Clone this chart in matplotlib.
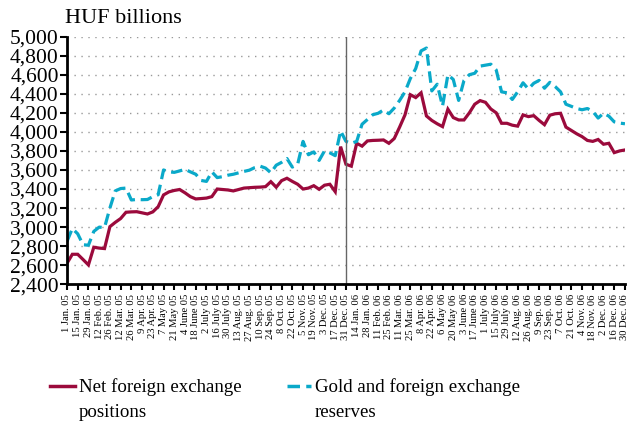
import numpy as np
import matplotlib
matplotlib.use("Agg")
import matplotlib.pyplot as plt
from matplotlib.lines import Line2D

plt.rcParams['font.family'] = ['Liberation Serif', 'DejaVu Serif']

# weekly observations, 1 Jan 05 ... 30 Dec 06 (HUF billions)
net_fx = [2620, 2715, 2715, 2660, 2603, 2789, 2780, 2775, 3005, 3050,
          3090, 3156, 3160, 3162, 3150, 3138, 3160, 3215, 3338, 3370,
          3385, 3395, 3360, 3320, 3296, 3300, 3305, 3320, 3400, 3395,
          3390, 3380, 3395, 3410, 3414, 3418, 3420, 3425, 3477, 3419,
          3488, 3513, 3480, 3450, 3400, 3410, 3435, 3397, 3440, 3450,
          3372, 3845, 3660, 3640, 3880, 3850, 3905, 3910, 3912, 3915,
          3880, 3930, 4050, 4178, 4390, 4360, 4410, 4167, 4120, 4085,
          4055, 4238, 4150, 4125, 4125, 4200, 4290, 4328, 4310, 4240,
          4200, 4090, 4090, 4070, 4060, 4178, 4160, 4170, 4120, 4075,
          4175, 4190, 4195, 4050, 4015, 3980, 3950, 3910, 3900, 3920,
          3870, 3880, 3782, 3800, 3810]

reserves = [2850, 2985, 2930, 2815, 2810, 2955, 3000, 2995, 3200, 3380,
            3405, 3410, 3285, 3290, 3288, 3290, 3320, 3340, 3600, 3580,
            3575, 3590, 3607, 3580, 3555, 3490, 3480, 3580, 3520, 3530,
            3545, 3555, 3570, 3585, 3598, 3625, 3640, 3620, 3570, 3650,
            3680, 3720, 3630, 3660, 3900, 3760, 3790, 3700, 3800, 3780,
            3750, 4010, 3900, 3880, 3900, 4080, 4130, 4180, 4195, 4230,
            4190, 4250, 4330, 4420, 4560, 4665, 4850, 4880, 4430, 4500,
            4270, 4600, 4550, 4330, 4540, 4600, 4615, 4690, 4700, 4710,
            4650, 4420, 4410, 4340, 4420, 4515, 4450, 4510, 4540, 4458,
            4520, 4475, 4420, 4290, 4268, 4245, 4232, 4245, 4215, 4145,
            4195, 4165, 4105, 4092, 4085]

date_labels = ["1 Jan. 05", "15 Jan. 05", "29 Jan. 05", "12 Feb. 05", "26 Feb. 05",
               "12 Mar. 05", "26 Mar. 05", "9 Apr. 05", "23 Apr. 05", "7 May 05",
               "21 May 05", "4 June 05", "18 June 05", "2 July 05", "16 July 05",
               "30 July 05", "13 Aug. 05", "27 Aug. 05", "10 Sep. 05", "24 Sep. 05",
               "8 Oct. 05", "22 Oct. 05", "5 Nov. 05", "19 Nov. 05", "3 Dec. 05",
               "17 Dec. 05", "31 Dec. 05", "14 Jan. 06", "28 Jan. 06", "11 Feb. 06",
               "25 Feb. 06", "11 Mar. 06", "25 Mar. 06", "8 Apr. 06", "22 Apr. 06",
               "6 May 06", "20 May 06", "3 June 06", "17 June 06", "1 July 06",
               "15 July 06", "29 July 06", "12 Aug. 06", "26 Aug. 06", "9 Sep. 06",
               "23 Sep. 06", "7 Oct. 06", "21 Oct. 06", "4 Nov. 06", "18 Nov. 06",
               "2 Dec. 06", "16 Dec. 06", "30 Dec. 06"]

series_names = [['Net foreign exchange', 'positions'],
                ['Gold and foreign exchange', 'reserves']]

y_ticks = np.arange(2400, 5001, 200)

red = '#9b0a3c'
cyan = '#0aa9c9'

W, H = 630, 424
fig = plt.figure(figsize=(W / 100, H / 100), dpi=100)
ax = fig.add_axes([0.1063, 0.3295, 0.8857, 0.5842])

weeks = np.arange(len(net_fx))
ax.plot(weeks, net_fx, color=red, lw=2.3, solid_joinstyle='miter')
ax.plot(weeks, reserves, color=cyan, lw=2.3, dashes=(3.6, 1.8))

# year boundary
ax.axvline(52, color='#666666', lw=1.0)

ax.set_xlim(0, 104)
ax.set_ylim(2400, 5000)
ax.set_yticks(y_ticks)
ax.set_yticklabels(['{:,}'.format(v) for v in y_ticks], fontsize=15.5)
ax.set_xticks(np.arange(0, 105, 2))
ax.set_xticklabels(date_labels, rotation=90, fontsize=7.6)

ax.grid(axis='y', color='#999999', linestyle=(0, (1, 4)), lw=1)
ax.set_axisbelow(True)
for s in ['top', 'right']:
    ax.spines[s].set_visible(False)
ax.spines['left'].set_linewidth(2)
ax.spines['bottom'].set_linewidth(2)
ax.tick_params(axis='y', direction='out', length=5, width=1.5, pad=1)
ax.tick_params(axis='x', direction='out', length=4, width=1.5, pad=3)

fig.text(0.103, 0.957, 'HUF billions', fontsize=16, va='center', ha='left')

# legend, drawn by hand so the key sits on the first text line
def px(x, y):
    return x / W, 1 - y / H

for (x0, x1, tx), col, dash, names in zip([(50, 75, 79), (287, 311, 315)],
                                          [red, cyan], [None, (3.6, 1.8)],
                                          series_names):
    (a, yk), (b, _) = px(x0, 386), px(x1, 386)
    ln = Line2D([a, b], [yk, yk], color=col, lw=2.5, transform=fig.transFigure)
    if dash:
        ln.set_dashes(dash)
    fig.add_artist(ln)
    for name, yb in zip(names, [392, 417]):
        fx, fy = px(tx, yb)
        fig.text(fx, fy, name, fontsize=13.6, va='baseline', ha='left')

fig.savefig('out.png', dpi=100)
